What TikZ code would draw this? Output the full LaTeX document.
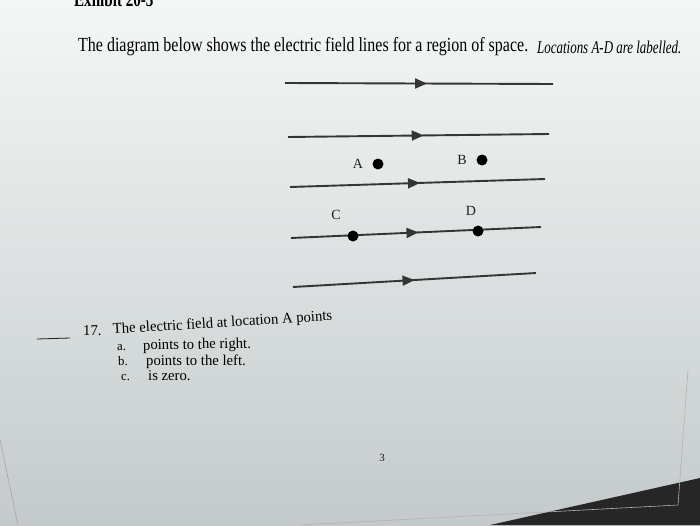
\documentclass[tikz,border=0pt]{standalone}
\usepackage{fontspec}
\setmainfont{Liberation Serif}
\usetikzlibrary{arrows.meta,decorations.markings}
\definecolor{paperlight}{RGB}{244,247,246}
\definecolor{papershade}{RGB}{196,202,203}
\definecolor{inkgray}{RGB}{30,30,30}

\begin{document}
\begin{tikzpicture}[
    x=1pt, y=-1pt,
    fieldline/.style={line width=1.9pt, draw=inkgray!90,
        postaction={decorate, decoration={markings,
            mark=at position #1 with {\arrow{Triangle[length=12pt,width=10pt]}}}}},
    fieldline/.default=0.52,
    chargedot/.style={circle, fill=black, inner sep=0pt, minimum size=11pt},
    ptlabel/.style={font=\fontsize{14}{14}\selectfont, text=inkgray},
    qtext/.style={anchor=base west, font=\fontsize{15}{17}\selectfont, xscale=0.98, transform shape, inner sep=0pt}
]
% page and background
\useasboundingbox (0,0) rectangle (700,525);
\clip (0,0) rectangle (700,525);
\shade[top color=paperlight, bottom color=papershade] (0,0) rectangle (700,525);
\fill[black!85] (490,525) -- (700,478) -- (700,525) -- cycle;
\draw[gray!70, line width=0.6pt] (0,440) -- (18,525);
\draw[gray!60, line width=0.6pt] (688,370) -- (678,505) -- (300,525);

% heading
\node[anchor=base west, font=\fontsize{21}{21}\selectfont\bfseries, xscale=0.72, transform shape, inner sep=0pt] (exhibit) at (74,6) {Exhibit 20-3};
\node[anchor=base west, font=\fontsize{20}{20}\selectfont, xscale=0.80, transform shape, inner sep=0pt] (intro) at (78,51)
    {The diagram below shows the electric field lines for a region of space.};
\node[anchor=base west, font=\fontsize{18}{18}\selectfont\itshape, xscale=0.72, transform shape, inner sep=0pt] (introlabel) at (537,53)
    {Locations A-D are labelled.};

% field lines
\coordinate (l1) at (285,83);  \coordinate (r1) at (553,84);
\coordinate (l2) at (288,137); \coordinate (r2) at (549,134);
\coordinate (l3) at (290,187); \coordinate (r3) at (545,179);
\coordinate (l4) at (291,238); \coordinate (r4) at (541,227);
\coordinate (l5) at (293,287); \coordinate (r5) at (536,273);
\draw[fieldline=0.53] (l1) -- (r1);
\draw[fieldline=0.52] (l2) -- (r2);
\draw[fieldline=0.51] (l3) -- (r3);
\draw[fieldline=0.51] (l4) -- (r4);
\draw[fieldline=0.50] (l5) -- (r5);

% locations
\node[chargedot] (A) at (378,164) {};
\node[chargedot] (B) at (482,160) {};
\node[chargedot] (C) at (353,236) {};
\node[chargedot] (D) at (478,231) {};
\node[ptlabel] (Alabel) at (358,164) {A};
\node[ptlabel] (Blabel) at (462,160) {B};
\node[ptlabel] (Clabel) at (336,215) {C};
\node[ptlabel] (Dlabel) at (471,211) {D};

% question 17
\draw[inkgray, line width=0.8pt] (37,339) -- (70,338);
\node[qtext] (qnum) at (83,335) {17.};
\node[qtext, rotate=3.5] (qstem) at (113,334) {The electric field at location A points};
\node[qtext, font=\fontsize{13}{14}\selectfont] (opta) at (117,350) {a.};
\node[qtext, rotate=1] (optatext) at (143,350) {points to the right.};
\node[qtext, font=\fontsize{13}{14}\selectfont] (optb) at (118,365) {b.};
\node[qtext] (optbtext) at (146,365) {points to the left.};
\node[qtext, font=\fontsize{13}{14}\selectfont] (optc) at (121,380) {c.};
\node[qtext] (optctext) at (148,380) {is zero.};

% page number
\node[font=\fontsize{11}{11}\selectfont, text=inkgray] (pagenum) at (382,458) {3};
\end{tikzpicture}
\end{document}
